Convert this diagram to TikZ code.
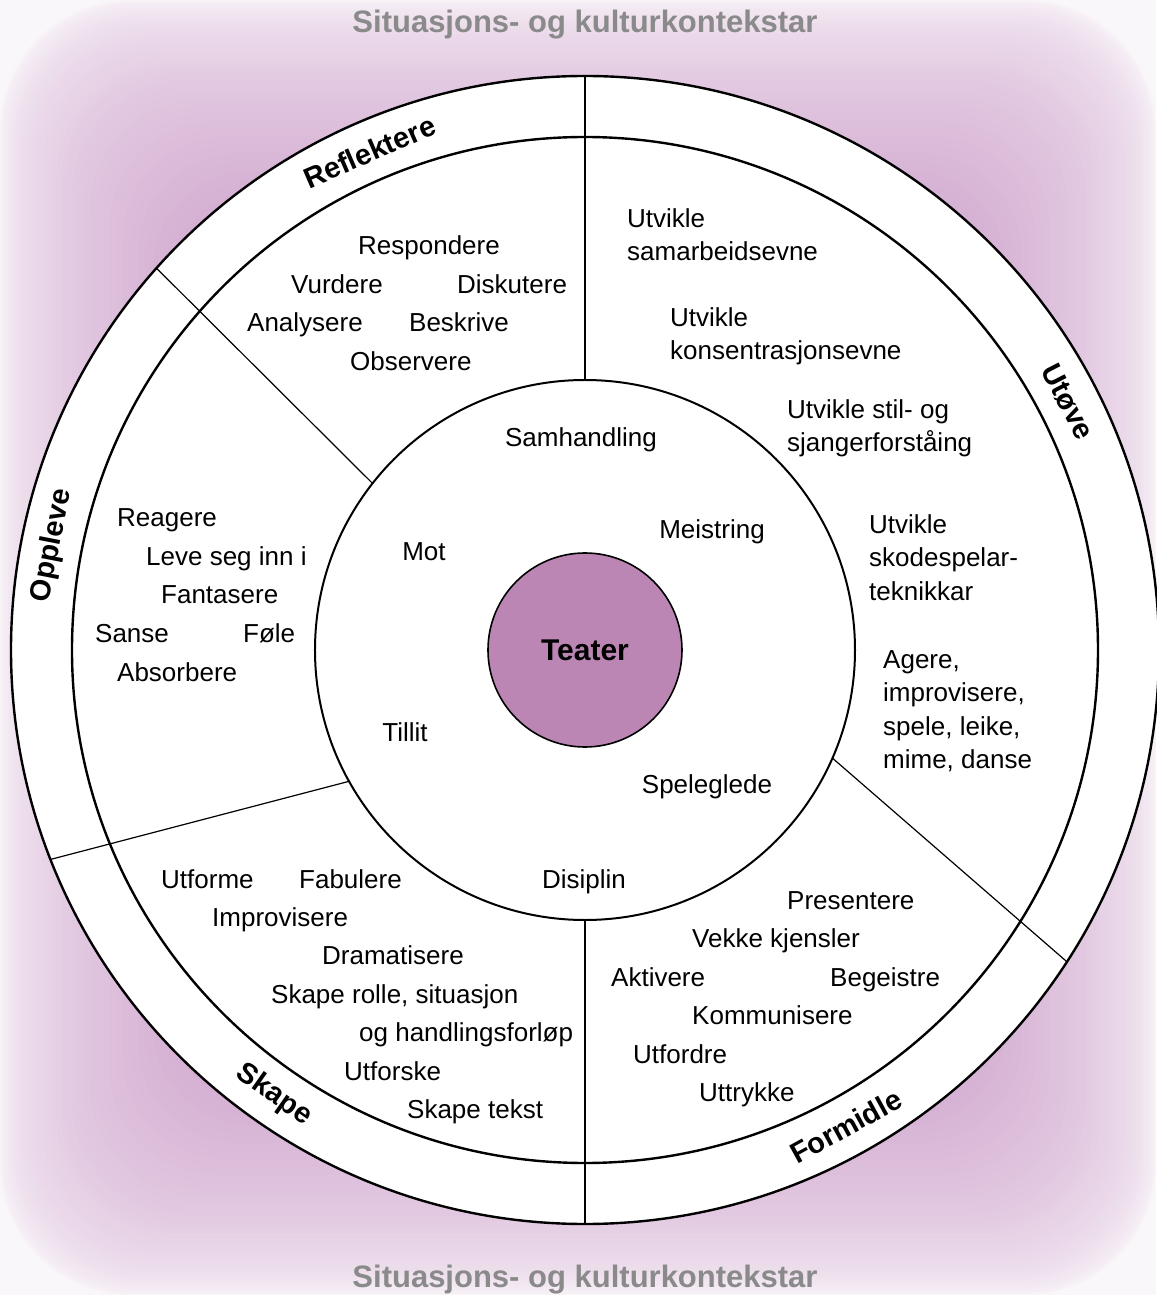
\documentclass[tikz,border=0pt]{standalone}
\usepackage{fontspec}
\setmainfont{Liberation Sans}
\definecolor{glowedge}{RGB}{250,247,250}
\definecolor{glowpurple}{RGB}{206,162,203}
\definecolor{teaterfill}{RGB}{188,134,180}
\definecolor{titlegray}{RGB}{138,138,138}

\begin{document}
\begin{tikzpicture}[x=1pt, y=1pt,
    word/.style={anchor=base west, inner sep=0pt, font=\fontsize{26}{31}\selectfont},
    block/.style={anchor=north west, inner sep=0pt, align=left, font=\fontsize{26}{33.5}\selectfont},
    core/.style={anchor=base, inner sep=0pt, font=\fontsize{26}{31}\selectfont},
    ringlabel/.style={inner sep=0pt, font=\fontsize{29}{34}\selectfont\bfseries},
    context/.style={anchor=base, inner sep=0pt, text=titlegray, font=\fontsize{31}{37}\selectfont\bfseries},
    ring/.style={line width=2.4pt},
    divider/.style={line width=1.2pt}]

      % --- Dimensions ---
      \def\rOut{574pt}
      \def\rBand{513pt}
      \def\rMid{270pt}
      \useasboundingbox (-585,-645) rectangle (571,650);

      % --- Background glow (soft rectangular fade) ---
      \fill[glowedge] (-585,-645) rectangle (571,650);
      \foreach \k in {1,...,48} {
        \pgfmathsetmacro{\s}{1-0.42*(\k/48)^2}
        \pgfmathsetmacro{\rc}{130*\s}
        \pgfmathtruncatemacro{\p}{100*\k/48}
        \fill[glowpurple!\p!glowedge, rounded corners=\rc pt] (-585*\s,-645*\s) rectangle (571*\s,650*\s);
      }

      % --- Circles ---
      \filldraw[ring, fill=white] (0,0) circle (\rOut);
      \draw[ring] (0,0) circle (\rBand);
      \draw[line width=2pt] (0,0) circle (\rMid);

      % --- Sector dividers ---
      \draw[divider] (90:270) -- (90:574);
      \draw[divider] (270:270) -- (270:574);
      \draw[divider] (141.9:270) -- (138.3:574);
      \draw[divider] (209.1:270) -- (201.4:574);
      \draw[divider] (-23.6:270) -- (-32.9:574);

      % --- Core ---
      \node[circle, draw, line width=1.6pt, fill=teaterfill, minimum size=194pt, inner sep=0pt,
            font=\fontsize{30}{36}\selectfont\bfseries] (teater) at (0,0) {Teater};

      % --- Context titles ---
      \node[context] (ctxtop) at (0,617) {Situasjons- og kulturkontekstar};
      \node[context] (ctxbot) at (0,-637) {Situasjons- og kulturkontekstar};

      % --- Ring labels ---
      \node[ringlabel, rotate=23.4] (reflektere) at (113.4:543) {Reflektere};
      \node[ringlabel, rotate=78.9] (oppleve) at (168.9:543) {Oppleve};
      \node[ringlabel, rotate=-62.8] (utove) at (27.2:543) {Utøve};
      \node[ringlabel, rotate=28.7] (formidle) at (-61.3:543) {Formidle};
      \node[ringlabel, rotate=-35] (skape) at (235:543) {Skape};

      % --- Middle ring values ---
      \node[core] (samhandling) at (-4,203) {Samhandling};
      \node[core] (meistring) at (127,111) {Meistring};
      \node[core] (mot) at (-161,89) {Mot};
      \node[core] (tillit) at (-180,-91) {Tillit};
      \node[core] (speleglede) at (122,-143) {Speleglede};
      \node[core] (disiplin) at (-1,-238) {Disiplin};

      % --- Reflektere ---
      \node[word] (respondere) at (-227,395) {Respondere};
      \node[word] (vurdere) at (-294,356) {Vurdere};
      \node[word] (diskutere) at (-128,356) {Diskutere};
      \node[word] (analysere) at (-338,318) {Analysere};
      \node[word] (beskrive) at (-176,318) {Beskrive};
      \node[word] (observere) at (-235,279) {Observere};

      % --- Utøve ---
      \node[block] (samarbeid) at (42,442) {Utvikle\\samarbeidsevne};
      \node[block] (konsentrasjon) at (85,343) {Utvikle\\konsentrasjonsevne};
      \node[block] (stil) at (202,251) {Utvikle stil- og\\sjangerforståing};
      \node[block] (teknikk) at (284,136) {Utvikle\\skodespelar-\\teknikkar};
      \node[block] (agere) at (298,0) {Agere,\\improvisere,\\spele, leike,\\mime, danse};

      % --- Oppleve ---
      \node[word] (reagere) at (-468,123) {Reagere};
      \node[word] (leve) at (-439,84) {Leve seg inn i};
      \node[word] (fantasere) at (-424,46) {Fantasere};
      \node[word] (sanse) at (-490,7) {Sanse};
      \node[word] (fole) at (-342,7) {Føle};
      \node[word] (absorbere) at (-468,-31) {Absorbere};

      % --- Skape ---
      \node[word] (utforme) at (-424,-238) {Utforme};
      \node[word] (fabulere) at (-286,-238) {Fabulere};
      \node[word] (improvisere) at (-373,-276) {Improvisere};
      \node[word] (dramatisere) at (-263,-314) {Dramatisere};
      \node[word] (rolle) at (-314,-353) {Skape rolle, situasjon};
      \node[word] (handling) at (-226,-391) {og handlingsforløp};
      \node[word] (utforske) at (-241,-430) {Utforske};
      \node[word] (tekst) at (-178,-468) {Skape tekst};

      % --- Formidle ---
      \node[word] (presentere) at (202,-259) {Presentere};
      \node[word] (kjensler) at (107,-297) {Vekke kjensler};
      \node[word] (aktivere) at (26,-336) {Aktivere};
      \node[word] (begeistre) at (245,-336) {Begeistre};
      \node[word] (kommunisere) at (107,-374) {Kommunisere};
      \node[word] (utfordre) at (48,-413) {Utfordre};
      \node[word] (uttrykke) at (114,-451) {Uttrykke};

\end{tikzpicture}
\end{document}
